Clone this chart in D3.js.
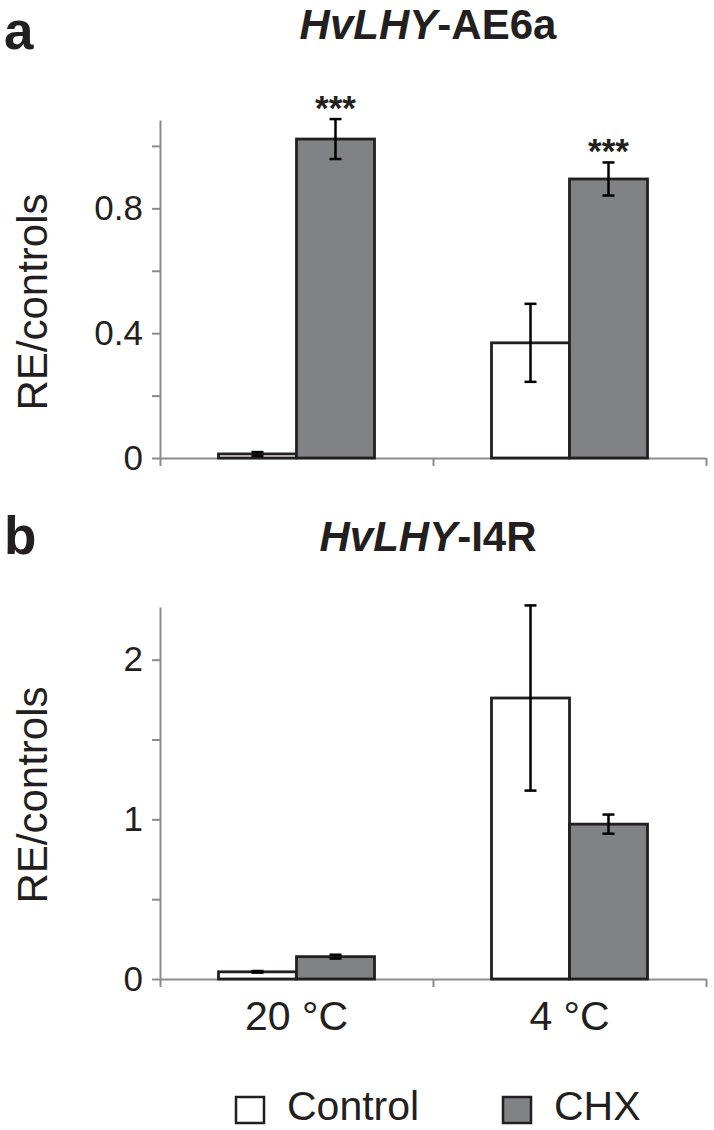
<!DOCTYPE html>
<html>
  <head>
    <meta charset="UTF-8" />
    <style>
      body {
        margin: 0;
        background: #fff;
        font-family: "Liberation Sans", Arial, sans-serif;
      }
    </style>
  </head>
  <body>
    <svg></svg>
    <script src="https://d3js.org/d3.v7.min.js"></script>
    <script>
      // Data
      const categories = ["20 °C", "4 °C"];
      const series = ["Control", "CHX"];

      // panel a: HvLHY-AE6a
      const aControl = [0.013, 0.369];
      const aControlErr = [0.006, 0.125];
      const aChx = [1.022, 0.894];
      const aChxErr = [0.064, 0.053];
      const aStars = ["***", "***"];
      const aTicks = [0, 0.2, 0.4, 0.6, 0.8, 1.0];
      const aTickLabels = ["0", "", "0.4", "", "0.8", ""];

      // panel b: HvLHY-I4R
      const bControl = [0.045, 1.76];
      const bControlErr = [0.005, 0.58];
      const bChx = [0.14, 0.97];
      const bChxErr = [0.012, 0.06];
      const bStars = ["", ""];
      const bTicks = [0, 0.5, 1, 1.5, 2];
      const bTickLabels = ["0", "", "1", "", "2"];

      let width = 714,
        height = 1130;

      let svg = d3
        .select("svg")
        .attr("width", width)
        .attr("height", height)
        .style("display", "block");

      svg.append("rect").attr("width", width).attr("height", height).attr("fill", "#fff");

      const ink = "#231f20";
      const axisGrey = "#8c8c8c";
      const barGrey = "#808285";

      let colour = d3.scaleOrdinal().domain(series).range(["#ffffff", barGrey]);

      let x = d3.scaleBand().domain(categories).range([160, 706]);
      let xInner = d3
        .scaleBand()
        .domain(series)
        .range([0, x.bandwidth()])
        .paddingInner(0)
        .paddingOuter(0.75);
      let xEdge = d3.scaleLinear().domain([0, categories.length]).range([160, 706]);

      function drawPanel(p) {
        let g = svg.append("g");
        let y = d3.scaleLinear().domain([0, p.yMax]).range([p.base, p.top]);

        // panel letter + title
        g.append("text")
          .attr("x", 4)
          .attr("y", p.letterY)
          .attr("font-size", 53)
          .attr("font-weight", "bold")
          .attr("fill", ink)
          .text(p.letter);

        let title = g
          .append("text")
          .attr("x", 428)
          .attr("y", p.titleY)
          .attr("text-anchor", "middle")
          .attr("font-size", 42)
          .attr("font-weight", "bold")
          .attr("fill", ink);
        title.append("tspan").attr("font-style", "italic").text("HvLHY");
        title.append("tspan").text(p.gene);

        // y axis
        let yAxis = d3
          .axisLeft(y)
          .tickValues(p.ticks)
          .tickSize(8)
          .tickSizeOuter(0)
          .tickPadding(9)
          .tickFormat((d, i) => p.tickLabels[i]);

        let ya = g.append("g").attr("transform", "translate(160,0)").call(yAxis);
        ya.select(".domain").attr("stroke", axisGrey).attr("stroke-width", 2);
        ya.selectAll(".tick line").attr("stroke", axisGrey).attr("stroke-width", 2);
        ya.selectAll(".tick text")
          .attr("font-size", 35)
          .attr("font-family", "Liberation Sans, Arial, sans-serif")
          .attr("fill", ink);

        // x axis (ticks at category edges)
        let xAxis = d3
          .axisBottom(xEdge)
          .tickValues(d3.range(categories.length + 1))
          .tickSize(8)
          .tickSizeOuter(0)
          .tickFormat("");
        let xa = g.append("g").attr("transform", "translate(0," + p.base + ")").call(xAxis);
        xa.select(".domain").attr("stroke", axisGrey).attr("stroke-width", 2);
        xa.selectAll(".tick line").attr("stroke", axisGrey).attr("stroke-width", 2);

        // bars
        let rows = [];
        categories.forEach((c, i) => {
          rows.push({ cat: c, s: "Control", v: p.control[i], e: p.controlErr[i], star: "" });
          rows.push({ cat: c, s: "CHX", v: p.chx[i], e: p.chxErr[i], star: p.stars[i] });
        });

        g.append("g")
          .selectAll("rect")
          .data(rows)
          .enter()
          .append("rect")
          .attr("x", (d) => x(d.cat) + xInner(d.s))
          .attr("y", (d) => y(d.v))
          .attr("width", xInner.bandwidth())
          .attr("height", (d) => y(0) - y(d.v))
          .attr("fill", (d) => colour(d.s))
          .attr("stroke", ink)
          .attr("stroke-width", 2.8);

        // error bars
        let eb = g
          .append("g")
          .selectAll("g")
          .data(rows)
          .enter()
          .append("g")
          .attr("transform", (d) => "translate(" + (x(d.cat) + xInner(d.s) + xInner.bandwidth() / 2) + ",0)")
          .attr("stroke", "#000")
          .attr("stroke-width", 2.5);
        eb.append("line")
          .attr("x1", 0)
          .attr("x2", 0)
          .attr("y1", (d) => y(d.v + d.e))
          .attr("y2", (d) => y(d.v - d.e));
        eb.append("line")
          .attr("x1", -6)
          .attr("x2", 6)
          .attr("y1", (d) => y(d.v + d.e))
          .attr("y2", (d) => y(d.v + d.e));
        eb.append("line")
          .attr("x1", -6)
          .attr("x2", 6)
          .attr("y1", (d) => y(d.v - d.e))
          .attr("y2", (d) => y(d.v - d.e));

        // significance stars
        g.append("g")
          .selectAll("text")
          .data(rows.filter((d) => d.star))
          .enter()
          .append("text")
          .attr("x", (d) => x(d.cat) + xInner(d.s) + xInner.bandwidth() / 2)
          .attr("y", (d) => y(d.v + d.e) + 1)
          .attr("text-anchor", "middle")
          .attr("font-size", 35)
          .attr("font-weight", "bold")
          .attr("fill", ink)
          .text((d) => d.star);

        // y label
        g.append("text")
          .attr("transform", "translate(47," + p.labelY + ") rotate(-90)")
          .attr("text-anchor", "middle")
          .attr("font-size", 42)
          .attr("fill", ink)
          .text("RE/controls");

        if (p.showCats) {
          g.append("g")
            .selectAll("text")
            .data(categories)
            .enter()
            .append("text")
            .attr("x", (d) => x(d) + x.bandwidth() / 2)
            .attr("y", p.base + 51)
            .attr("text-anchor", "middle")
            .attr("font-size", 41)
            .attr("fill", ink)
            .text((d) => d);
        }
      }

      drawPanel({
        letter: "a",
        gene: "-AE6a",
        letterY: 49,
        titleY: 39,
        top: 120,
        base: 458,
        yMax: 1.083,
        ticks: aTicks,
        tickLabels: aTickLabels,
        control: aControl,
        controlErr: aControlErr,
        chx: aChx,
        chxErr: aChxErr,
        stars: aStars,
        labelY: 302,
        showCats: false,
      });

      drawPanel({
        letter: "b",
        gene: "-I4R",
        letterY: 554,
        titleY: 551,
        top: 607,
        base: 979,
        yMax: 2.33,
        ticks: bTicks,
        tickLabels: bTickLabels,
        control: bControl,
        controlErr: bControlErr,
        chx: bChx,
        chxErr: bChxErr,
        stars: bStars,
        labelY: 795,
        showCats: true,
      });

      // legend
      let legendX = [236, 503];
      let legend = svg
        .append("g")
        .selectAll("g")
        .data(series)
        .enter()
        .append("g")
        .attr("transform", (d, i) => "translate(" + legendX[i] + ",1097)");
      legend
        .append("rect")
        .attr("width", 28)
        .attr("height", 26)
        .attr("fill", (d) => colour(d))
        .attr("stroke", ink)
        .attr("stroke-width", 2.5);
      legend
        .append("text")
        .attr("x", 51)
        .attr("y", 23)
        .attr("font-size", 41)
        .attr("fill", ink)
        .text((d) => d);
    </script>
  </body>
</html>
